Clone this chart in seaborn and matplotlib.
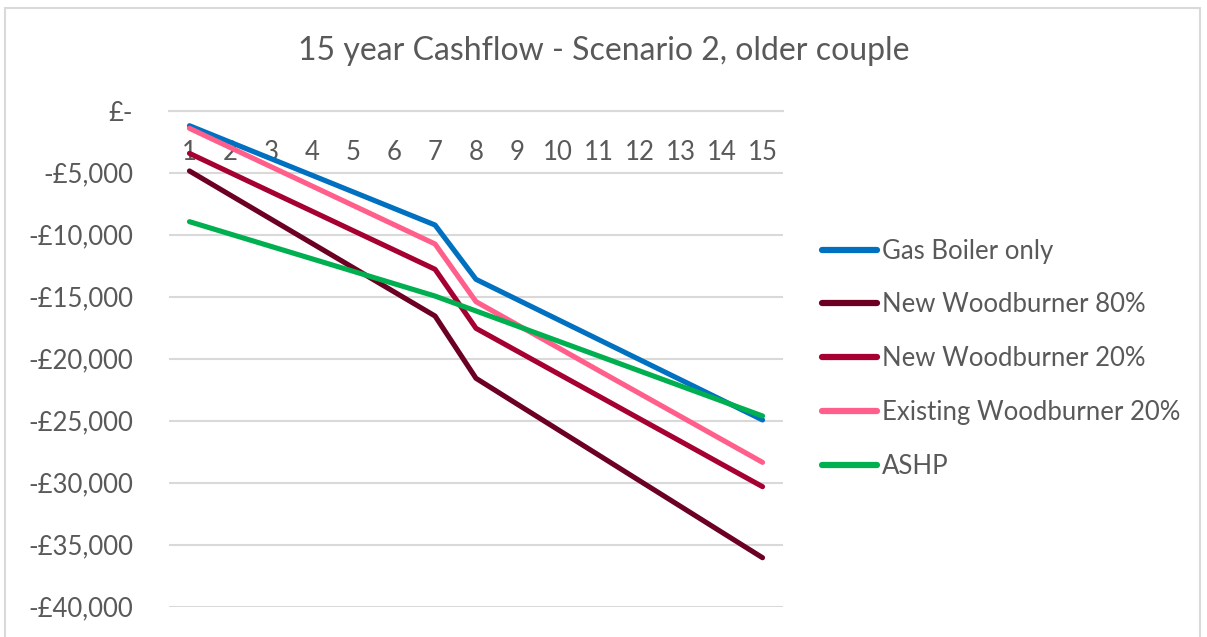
import numpy as np
import pandas as pd
import seaborn as sb
import matplotlib.pyplot as plt
from matplotlib.patches import Rectangle
from matplotlib.ticker import FuncFormatter

# values
years = list(range(1, 16))
gas_boiler = [-1210, -2545, -3880, -5215, -6550, -7885, -9220, -13600,
              -15220, -16840, -18460, -20080, -21700, -23320, -24940]
new_wb_80 = [-4860, -6810, -8760, -10710, -12660, -14610, -16560, -21580,
             -23650, -25715, -27780, -29850, -31915, -33985, -36050]
new_wb_20 = [-3440, -5000, -6560, -8115, -9675, -11230, -12790, -17550,
             -19375, -21200, -23020, -24850, -26670, -28500, -30320]
existing_wb_20 = [-1420, -2975, -4530, -6085, -7640, -9195, -10750, -15400,
                  -17250, -19100, -20960, -22810, -24660, -26510, -28360]
ashp = [-8950, -9950, -10950, -11950, -12950, -13950, -14950, -16150,
        -17360, -18570, -19780, -20990, -22200, -23410, -24620]

series = ["Gas Boiler only", "New Woodburner 80%", "New Woodburner 20%",
          "Existing Woodburner 20%", "ASHP"]
colours = ["#0070C0", "#6B0023", "#A60032", "#FF5F8A", "#00B050"]

df = pd.DataFrame({"year": years, series[0]: gas_boiler, series[1]: new_wb_80,
                   series[2]: new_wb_20, series[3]: existing_wb_20, series[4]: ashp})
df = df.melt(id_vars="year", var_name="series", value_name="value")

sb.set_style("white")
plt.rcParams["font.family"] = ["Lato", "DejaVu Sans"]
txt = "#595959"

fig = plt.figure(figsize=(12.07, 6.37), dpi=100)
ax = fig.add_axes([169 / 1207, 1 - 606.7 / 637, 614 / 1207, (606.7 - 110.7) / 637])

sb.lineplot(data=df, x="year", y="value", hue="series", hue_order=series,
            palette=colours, linewidth=3.7, ax=ax, solid_capstyle="round")

ax.set_xlim(0.5, 15.5)
ax.set_ylim(-40000, 0)
ax.set_yticks(np.arange(-40000, 1, 5000))
ax.set_xticks(years)
ax.yaxis.set_major_formatter(FuncFormatter(
    lambda v, p: "£-" if v == 0 else "-£{:,.0f}".format(-v)))
ax.grid(axis="y", color="#D9D9D9", linewidth=1.5)
ax.set_axisbelow(True)
for s in ["top", "right", "left"]:
    ax.spines[s].set_visible(False)
ax.spines["bottom"].set_position(("data", 0))
ax.spines["bottom"].set_color("#D9D9D9")
ax.spines["bottom"].set_linewidth(1.5)
ax.tick_params(axis="x", length=0, pad=21, labelsize=18.5, labelcolor=txt)
ax.tick_params(axis="y", length=0, pad=26, labelsize=18.5, labelcolor=txt)
ax.set_xlabel("")
ax.set_ylabel("")

leg = ax.legend(loc="center left", bbox_to_anchor=(822 / 1207, 1 - 358.7 / 637),
                bbox_transform=fig.transFigure, frameon=False, fontsize=18.5,
                handlelength=2.15, handletextpad=0.2, labelspacing=1.12,
                borderpad=0, borderaxespad=0)
for t in leg.get_texts():
    t.set_color(txt)
for h in leg.get_lines():
    h.set_linewidth(4.5)
    h.set_solid_capstyle("round")

fig.text(0.5, 1 - 51 / 637, "15 year Cashflow - Scenario 2, older couple",
         ha="center", va="center", fontsize=23, color=txt)

fig.patches.append(Rectangle((5 / 1207, -0.02), 1195 / 1207, 1 - 8 / 637 + 0.02,
                             transform=fig.transFigure, fill=False,
                             edgecolor="#D9D9D9", linewidth=1.5))

plt.savefig("out.png", dpi=100)
